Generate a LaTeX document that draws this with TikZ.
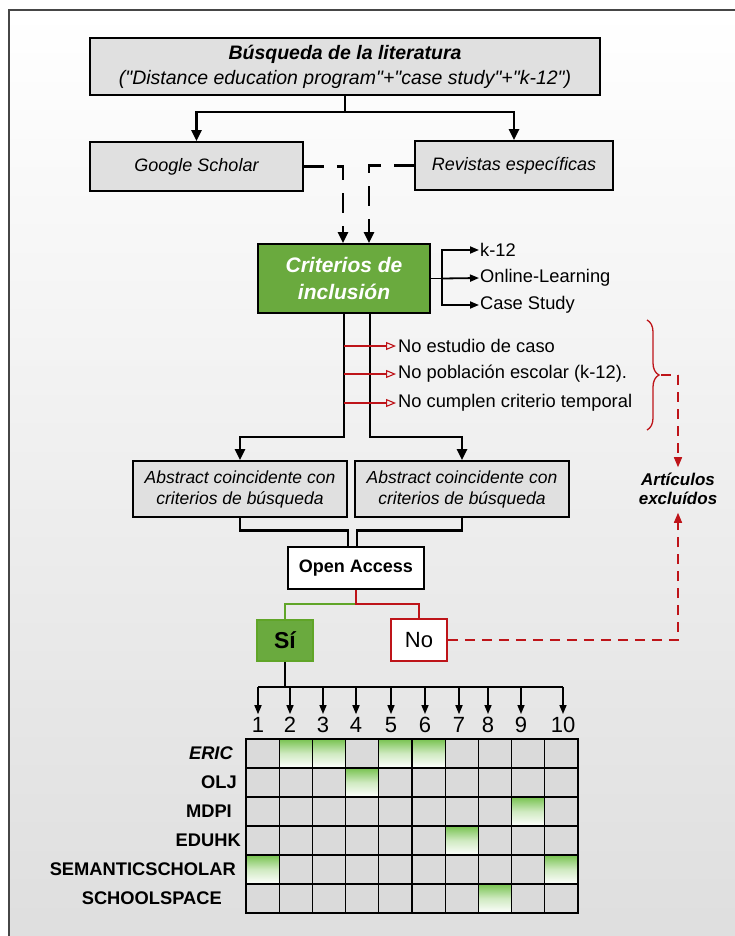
\documentclass[tikz,border=0pt]{standalone}
\usepackage{fontspec}
\setmainfont{Liberation Sans}[Ligatures=TeXOff]
\usetikzlibrary{arrows.meta,decorations.pathreplacing,calc}
\definecolor{boxgray}{RGB}{224,224,224}
\definecolor{critgreen}{RGB}{106,170,62}
\definecolor{linegreen}{RGB}{96,165,40}
\definecolor{myred}{RGB}{190,20,25}
\definecolor{cellgray}{RGB}{218,218,218}
\definecolor{cellgreen}{RGB}{120,195,80}
\definecolor{bgbot}{RGB}{222,222,222}
\definecolor{bgmid}{RGB}{240,240,240}
\definecolor{framegray}{RGB}{70,70,70}
\newcommand{\fs}[2]{\fontsize{#1}{#2}\selectfont}
\tikzset{
  graybox/.style={draw=black, line width=1.8pt, fill=boxgray, inner sep=0pt, align=center},
  conn/.style={line width=2.8pt, line join=miter},
  thinconn/.style={line width=1.8pt},
  bigarr/.style={-{Triangle[length=11pt,width=10pt]}},
  smallarr/.style={-{Triangle[length=9pt,width=7pt]}},
  redopen/.style={draw=myred, line width=1.1pt, -{Triangle[open,length=10pt,width=8pt]}},
  reddash/.style={draw=myred, line width=1.4pt, dash pattern=on 10pt off 7pt},
  redarr/.style={-{Triangle[length=10pt,width=8pt]}, color=myred},
  blackdash/.style={line width=2.8pt, dash pattern=on 20pt off 13pt},
  lbl/.style={anchor=west, inner sep=1pt, font=\fs{18.3}{20}},
  rowlbl/.style={anchor=east, inner sep=0pt, font=\fs{18.3}{20}\bfseries},
  numlbl/.style={inner sep=0pt, font=\fs{22}{24}, anchor=center},
}
\begin{document}
\begin{tikzpicture}[x=1pt,y=-1pt]
\useasboundingbox (0,0) rectangle (734,936);
\fill[white] (0,0) rectangle (734,936);
\path[draw=framegray, line width=1.5pt, top color=white, middle color=bgmid, bottom color=bgbot] (9,10) rectangle (748,950);

% top box
\node[graybox, minimum width=510pt, minimum height=57pt, font=\fs{19.5}{25}] (top) at (345,66.5)
  {\textbf{\textit{Búsqueda de la literatura}}\\\textit{("Distance education program"+"case study"+"k-12")}};
\node[graybox, minimum width=213pt, minimum height=49pt, font=\fs{18}{20}\itshape] (gs) at (196.5,166.5) {Google Scholar};
\node[graybox, minimum width=198pt, minimum height=49pt, font=\fs{18}{20}\itshape] (rev) at (514,165.5) {Revistas específicas};
\node[draw=black, line width=1.8pt, fill=critgreen, text=white, align=center, inner sep=0pt,
      minimum width=172pt, minimum height=69pt, font=\fs{21}{27}\bfseries\itshape] (crit) at (344,278.5) {Criterios de\\inclusión};

\coordinate (j1) at (345,112);
\draw[conn] (top.south) -- (j1);
\draw[conn,bigarr] (j1) -| (gs.north);
\draw[conn,bigarr] (j1) -| (rev.north);

\draw[blackdash,bigarr] (gs.east) -| ($(crit.north)+(-1,0)$);
\draw[blackdash,bigarr] (rev.west) -| ($(crit.north)+(25,0)$);

% inclusion criteria list
\node[lbl] (k12) at (479,250) {k-12};
\node[lbl] (ol) at (479,278) {Online-Learning};
\node[lbl] (cs) at (479,305) {Case Study};
\coordinate (cb) at (442,278.5);
\draw[thinconn] (crit.east) -- (cb);
\draw[thinconn,smallarr] (cb) |- (k12.west);
\draw[thinconn,smallarr] (cb) -- (ol.west);
\draw[thinconn,smallarr] (cb) |- (cs.west);

% abstracts
\node[graybox, minimum width=214pt, minimum height=56pt, font=\fs{17.5}{21}\itshape] (abs1) at (240,489) {Abstract coincidente con\\criterios de búsqueda};
\node[graybox, minimum width=214pt, minimum height=56pt, font=\fs{17.5}{21}\itshape] (abs2) at (462,489) {Abstract coincidente con\\criterios de búsqueda};

\draw[conn,bigarr] (crit.south) -- ++(0,123) -| (abs1.north);
\draw[conn,bigarr] ($(crit.south)+(26,0)$) -- ++(0,123) -| (abs2.north);

% exclusion
\node[lbl, inner sep=2pt] (ne1) at (396,346) {No estudio de caso};
\node[lbl, inner sep=2pt] (ne2) at (396,374) {No población escolar (k-12).};
\node[lbl, inner sep=2pt] (ne3) at (396,403) {No cumplen criterio temporal};
\draw[redopen] (ne1.west -| crit.south) -- (ne1.west);
\draw[redopen] (ne2.west -| crit.south) -- (ne2.west);
\draw[redopen] (ne3.west -| crit.south) -- (ne3.west);

\coordinate (bra) at (647,320);
\coordinate (brb) at (647,430);
\draw[draw=myred, line width=1.3pt, decorate, decoration={brace, amplitude=12pt}] (bra) -- (brb);
\coordinate (bt) at (661,375);

\node[align=center, inner sep=2pt, font=\fs{17}{18.5}\bfseries\itshape] (art) at (678,489) {Artículos\\excluídos};
\draw[reddash] (bt) -- (art.north |- bt);
\draw[reddash,redarr] (art.north |- bt) -- ($(art.north)+(0,-4)$);

% open access
\node[draw=black, line width=1.8pt, fill=white, inner sep=0pt, minimum width=136pt, minimum height=42pt, font=\fs{18}{20}\bfseries] (oa) at (356,568) {Open Access};
\draw[conn] (abs1.south) |- ($(oa.north)+(-8,-16)$) -- ($(oa.north)+(-8,0)$);
\draw[conn] (abs2.south) |- ($(oa.north)+(1,-16)$) -- ($(oa.north)+(1,0)$);

\node[draw=linegreen, line width=1.5pt, fill=critgreen, inner sep=0pt, minimum width=56pt, minimum height=41pt, font=\fs{23}{25}\bfseries] (si) at (285,640.5) {Sí};
\node[draw=myred, line width=1.8pt, fill=white, inner sep=0pt, minimum width=56pt, minimum height=42pt, font=\fs{22}{24}] (no) at (419,640) {No};
\draw[line width=2.5pt, draw=linegreen] ($(oa.south)+(0,14)$) -| (si.north);
\draw[line width=2.5pt, draw=myred] (oa.south) -- ++(0,14) -| (no.north);

\draw[reddash,redarr] (no.east) -| ($(art.south)+(0,6)$);

% column numbers
\foreach \i/\x in {1/258,2/290,3/323,4/356,5/391,6/425,7/459,8/488,9/521,10/563}{
  \node[numlbl] (n\i) at (\x,725) {\i};
}
\coordinate (sj) at ($(si.south)+(0,25)$);
\draw[line width=1.5pt] (si.south) -- (sj);
\draw[line width=1.5pt] (sj -| n1) -- (sj -| n10);
\foreach \i in {1,...,10}{
  \draw[line width=1.5pt, smallarr] (sj -| n\i) -- ($(n\i.north)+(0,-3)$);
}

% grid
\def\gx{246}\def\gy{739}\def\cw{33.2}\def\rh{29}
\foreach \c in {0,...,9}{
  \foreach \r in {0,...,5}{
    \fill[cellgray] ({\gx+\c*\cw},{\gy+\r*\rh}) rectangle ++(\cw,\rh);
  }
}
\foreach \c/\r in {1/0,2/0,4/0,5/0,3/1,8/2,6/3,0/4,9/4,7/5}{
  \shade[top color=cellgreen, bottom color=white, middle color=cellgreen!35!white] ({\gx+\c*\cw},{\gy+\r*\rh}) rectangle ++(\cw,\rh);
}
\foreach \c in {1,...,9}{
  \draw[line width=1.3pt] ({\gx+\c*\cw},\gy) -- ++(0,6*\rh);
}
\foreach \r in {1,...,5}{
  \draw[line width=1.3pt] (\gx,{\gy+\r*\rh}) -- ++(10*\cw,0);
}
\draw[line width=2pt] (\gx,\gy) rectangle ++(10*\cw,6*\rh);

% row labels
\node[rowlbl, font=\fs{18.3}{20}\bfseries\itshape] (rERIC) at (233,753.5) {ERIC};
\node[rowlbl] (rOLJ) at (237,782.5) {OLJ};
\node[rowlbl] (rMDPI) at (232,811.5) {MDPI};
\node[rowlbl] (rEDUHK) at (241,840.5) {EDUHK};
\node[rowlbl] (rSEM) at (236,869.5) {SEMANTICSCHOLAR};
\node[rowlbl] (rSCH) at (222,898) {SCHOOLSPACE};
\end{tikzpicture}
\end{document}
